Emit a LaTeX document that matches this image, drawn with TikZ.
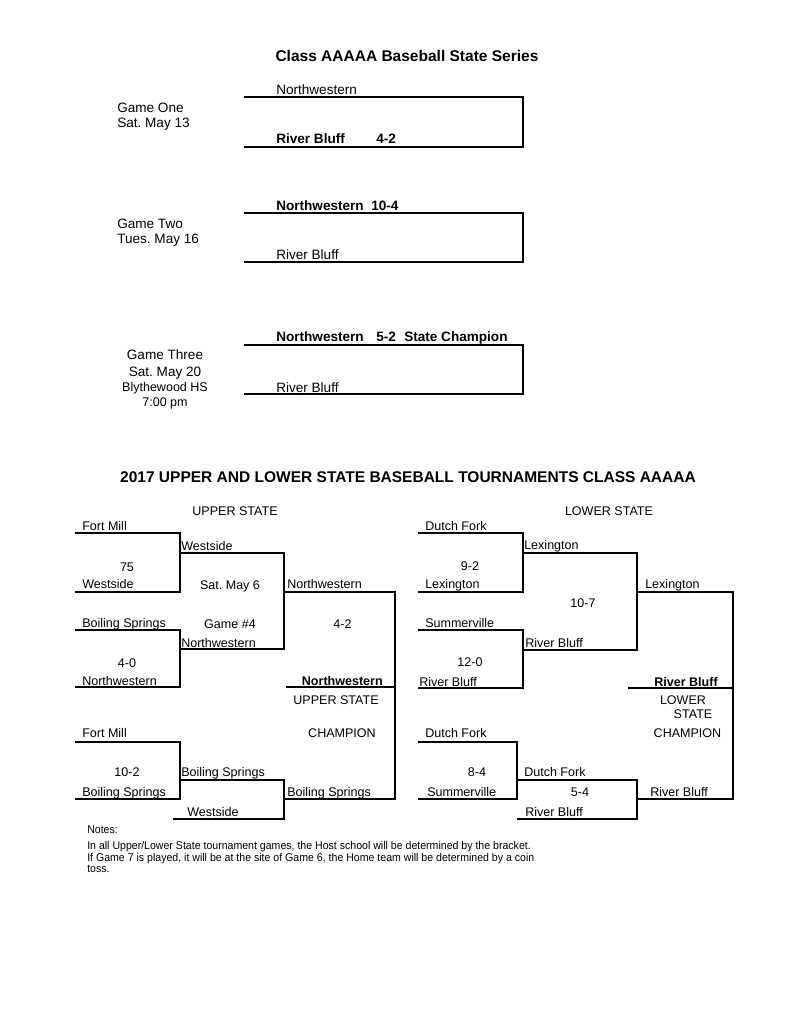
\documentclass[tikz,border=0pt]{standalone}
\usepackage{fontspec}
\setmainfont{Liberation Sans}
\newfontfamily\notefont[FakeStretch=0.94]{Liberation Sans}
\begin{document}
\frenchspacing
\begin{tikzpicture}[x=0.7737pt,y=-0.7737pt,
  bline/.style={line width=1.1pt, line join=miter},
  tt/.style={inner sep=0pt, font=\fontsize{10.5}{12}\selectfont},
  ttb/.style={inner sep=0pt, font=\fontsize{10.5}{12}\selectfont\bfseries},
  bt/.style={inner sep=0pt, font=\fontsize{9.7}{11}\selectfont},
  btb/.style={inner sep=0pt, font=\fontsize{9.7}{11}\selectfont\bfseries},
  nt/.style={inner sep=0pt, anchor=base west, font=\notefont\fontsize{8.7}{10}\selectfont},
  lft/.style={anchor=base west},
  ctr/.style={anchor=base},
  rgt/.style={anchor=base east}]
\useasboundingbox (0,0) rectangle (791,1024);
\fill[white] (0,0) rectangle (791,1024);

% ---------- State series ----------
\node[ttb,ctr,font=\fontsize{12}{14}\selectfont\bfseries] (title) at (407,61) {Class AAAAA Baseball State Series};

\draw[bline] (244,97) -- (523,97) -- (523,147) -- (244,147);
\draw[bline] (244,213) -- (523,213) -- (523,262) -- (244,262);
\draw[bline] (244,345) -- (523,345) -- (523,394) -- (244,394);

\node[tt,lft] (g1a) at (276,94) {Northwestern};
\node[ttb,lft] (g1b) at (276,143) {River Bluff};
\node[ttb,lft] (g1s) at (376,143) {4-2};
\node[tt,lft] (g1t) at (117,112) {Game One};
\node[tt,lft] (g1d) at (117,127) {Sat. May 13};

\node[ttb,lft] (g2a) at (276,210) {Northwestern};
\node[ttb,lft] (g2s) at (371,210) {10-4};
\node[tt,lft] (g2b) at (276,259) {River Bluff};
\node[tt,lft] (g2t) at (117,228) {Game Two};
\node[tt,lft] (g2d) at (117,243) {Tues. May 16};

\node[ttb,lft] (g3a) at (276,341) {Northwestern};
\node[ttb,lft] (g3s) at (376,341) {5-2};
\node[ttb,lft] (g3c) at (404,341) {State Champion};
\node[tt,lft] (g3b) at (276,392) {River Bluff};
\node[tt,ctr] (g3t) at (165,359) {Game Three};
\node[tt,ctr] (g3d) at (165,376) {Sat. May 20};
\node[tt,ctr,font=\fontsize{9.7}{11}\selectfont] (g3v) at (165,391) {Blythewood HS};
\node[tt,ctr,font=\fontsize{9.7}{11}\selectfont] (g3h) at (165,406) {7:00 pm};

% ---------- Tournaments ----------
\node[inner sep=0pt,ctr,font=\fontsize{12}{14}\selectfont\bfseries] (title2) at (408,482) {2017 UPPER AND LOWER STATE BASEBALL TOURNAMENTS CLASS AAAAA};

% Upper state
\node[bt,ctr] (us) at (235,515) {UPPER STATE};
\draw[bline] (75,533) -- (180,533) -- (180,592) -- (75,592);
\draw[bline] (75,630) -- (180,630) -- (180,687) -- (75,687);
\draw[bline] (180,553) -- (284,553) -- (284,649) -- (180,649);
\draw[bline] (75,742) -- (180,742) -- (180,799) -- (75,799);
\draw[bline] (180,780) -- (284,780) -- (284,819) -- (173,819);
\draw[bline] (284,592) -- (395,592) -- (395,799) -- (284,799);
\draw[bline] (286,687) -- (395,687);

\node[bt,lft] at (82,530) {Fort Mill};
\node[bt,ctr] at (127,571) {75};
\node[bt,lft] at (82,588) {Westside};
\node[bt,lft] at (181,550) {Westside};
\node[bt,ctr] at (230,589) {Sat. May 6};
\node[bt,lft] at (287,588) {Northwestern};
\node[bt,lft] at (82,627) {Boiling Springs};
\node[bt,ctr] at (230,628) {Game \#4};
\node[bt,ctr] at (342.5,628) {4-2};
\node[bt,lft] at (181,647) {Northwestern};
\node[bt,ctr] at (127,667) {4-0};
\node[bt,lft] at (82,685) {Northwestern};
\node[btb,rgt] at (383,685) {Northwestern};
\node[bt,ctr] at (336,704) {UPPER STATE};
\node[bt,ctr] at (342,737) {CHAMPION};
\node[bt,lft] at (82,737) {Fort Mill};
\node[bt,ctr] at (127,776) {10-2};
\node[bt,lft] at (181,776) {Boiling Springs};
\node[bt,lft] at (82,796) {Boiling Springs};
\node[bt,lft] at (287,796) {Boiling Springs};
\node[bt,lft] at (187,816) {Westside};

% Lower state
\node[bt,ctr] (ls) at (609,515) {LOWER STATE};
\draw[bline] (418,533) -- (523,533) -- (523,592) -- (418,592);
\draw[bline] (418,630) -- (523,630) -- (523,688) -- (418,688);
\draw[bline] (523,553) -- (637,553) -- (637,650) -- (523,650);
\draw[bline] (418,742) -- (517,742) -- (517,799) -- (418,799);
\draw[bline] (517,780) -- (637,780) -- (637,819) -- (517,819);
\draw[bline] (637,592) -- (733,592) -- (733,799) -- (637,799);
\draw[bline] (628,688) -- (733,688);

\node[bt,lft] at (425,530) {Dutch Fork};
\node[bt,lft] at (524,549) {Lexington};
\node[bt,ctr] at (470,570) {9-2};
\node[bt,lft] at (425,588) {Lexington};
\node[bt,lft] at (645,588) {Lexington};
\node[bt,ctr] at (583,607) {10-7};
\node[bt,lft] at (425,627) {Summerville};
\node[bt,lft] at (525,647) {River Bluff};
\node[bt,ctr] at (470,666) {12-0};
\node[bt,lft] at (419,686) {River Bluff};
\node[btb,rgt] at (718,686) {River Bluff};
\node[bt,ctr] at (683,704) {LOWER};
\node[bt,ctr] at (693,718) {STATE};
\node[bt,ctr] at (687.5,737) {CHAMPION};
\node[bt,lft] at (425,737) {Dutch Fork};
\node[bt,ctr] at (477,776) {8-4};
\node[bt,lft] at (524,776) {Dutch Fork};
\node[bt,lft] at (427,796) {Summerville};
\node[bt,ctr] at (580,796) {5-4};
\node[bt,lft] at (650,796) {River Bluff};
\node[bt,lft] at (525,816) {River Bluff};

% Notes
\node[nt] (n0) at (87,833) {Notes:};
\node[nt] (n1) at (87,849) {In all Upper/Lower State tournament games, the Host school will be determined by the bracket.};
\node[nt] (n2) at (87,861) {If Game 7 is played, it will be at the site of Game 6, the Home team will be determined by a coin};
\node[nt] (n3) at (87,872) {toss.};
\end{tikzpicture}
\end{document}
